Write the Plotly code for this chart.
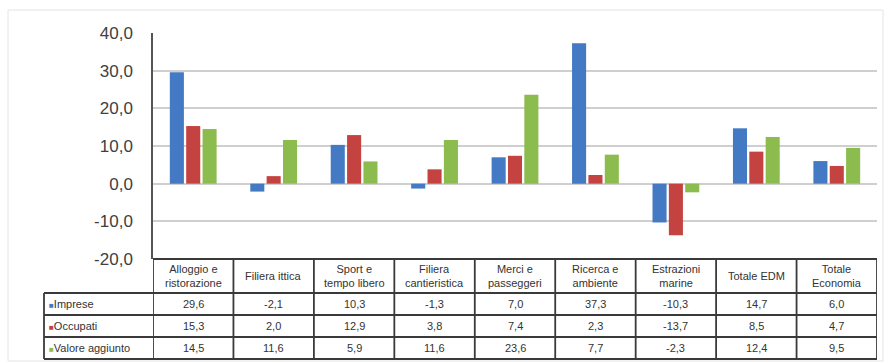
import plotly.graph_objects as go

# Sectors of the blue economy and yearly % changes per indicator
categories = ["Alloggio e<br>ristorazione", "Filiera ittica", "Sport e<br>tempo libero",
              "Filiera<br>cantieristica", "Merci e<br>passeggeri", "Ricerca e<br>ambiente",
              "Estrazioni<br>marine", "Totale EDM", "Totale<br>Economia"]
series_names = ["Imprese", "Occupati", "Valore aggiunto"]
imprese = [29.6, -2.1, 10.3, -1.3, 7.0, 37.3, -10.3, 14.7, 6.0]
occupati = [15.3, 2.0, 12.9, 3.8, 7.4, 2.3, -13.7, 8.5, 4.7]
valore_aggiunto = [14.5, 11.6, 5.9, 11.6, 23.6, 7.7, -2.3, 12.4, 9.5]
colors = ["#4479C4", "#C4423F", "#8CBB4E"]
y_ticks = [-20, -10, 0, 10, 20, 30, 40]
y_tick_labels = ["-20,0", "-10,0", "0,0", "10,0", "20,0", "30,0", "40,0"]

W, H = 890, 363
L, R, T, B = 153, 13, 33, 104
plot_w = W - L - R
plot_h = H - T - B
FONT = "Liberation Sans, Arial, sans-serif"
LINE = "#3a3a3a"
TXT = "#333333"


def px_x(p):
    return (p - L) / plot_w


def px_y(p):
    return (H - B - p) / plot_h


def fmt(v):
    return f"{v:.1f}".replace(".", ",")


n = len(categories)
xs = list(range(n))
values = [imprese, occupati, valore_aggiunto]

fig = go.Figure()
for name, vals, col in zip(series_names, values, colors):
    fig.add_trace(go.Bar(x=xs, y=vals, name=name, marker=dict(color=col, line=dict(width=0)),
                         showlegend=False))

shapes = []
annotations = []

# outer chart frame
shapes.append(dict(type="rect", xref="paper", yref="paper", x0=px_x(8), x1=px_x(883),
                   y0=px_y(10), y1=px_y(361), line=dict(color="#e4e4e4", width=1), layer="below"))

# data table grid below the plot
row_edges = [259, 293, 315, 337, 359]
tbl_left = 44
for i, yp in enumerate(row_edges):
    x0 = px_x(tbl_left) if i >= 1 else 0
    shapes.append(dict(type="line", xref="paper", yref="paper", x0=x0, x1=1,
                       y0=px_y(yp), y1=px_y(yp), line=dict(color=LINE, width=1.8)))
for k in range(n + 1):
    shapes.append(dict(type="line", xref="x", yref="paper", x0=k - 0.5, x1=k - 0.5,
                       y0=px_y(259), y1=px_y(359), line=dict(color=LINE, width=1.8)))
shapes.append(dict(type="line", xref="paper", yref="paper", x0=px_x(tbl_left), x1=px_x(tbl_left),
                   y0=px_y(293), y1=px_y(359), line=dict(color=LINE, width=1.8)))

# header: sector names
for i, c in enumerate(categories):
    annotations.append(dict(x=i, y=px_y(276), xref="x", yref="paper", text=c, showarrow=False,
                            xanchor="center", yanchor="middle",
                            font=dict(family=FONT, size=11, color=TXT), align="center"))

# rows: legend key + values
row_centers = [304, 326, 348]
for name, vals, col, yc in zip(series_names, values, colors, row_centers):
    annotations.append(dict(x=px_x(47), y=px_y(yc), xref="paper", yref="paper",
                            xanchor="left", yanchor="middle",
                            text=f"<span style='color:{col};font-size:8px'>■</span>{name}",
                            showarrow=False, font=dict(family=FONT, size=11, color=TXT)))
    for i, v in enumerate(vals):
        annotations.append(dict(x=i, y=px_y(yc), xref="x", yref="paper",
                                xanchor="center", yanchor="middle",
                                text=fmt(v), showarrow=False,
                                font=dict(family=FONT, size=11, color=TXT)))

fig.update_layout(
    width=W, height=H,
    margin=dict(l=L, r=R, t=T, b=B),
    paper_bgcolor="white", plot_bgcolor="white",
    barmode="group", bargap=0.39, bargroupgap=0.14,
    shapes=shapes, annotations=annotations,
    xaxis=dict(range=[-0.5, n - 0.5], showticklabels=False, showgrid=False, zeroline=False,
               showline=False, fixedrange=True),
    yaxis=dict(range=[-20, 40], tickvals=y_ticks, ticktext=y_tick_labels, showgrid=True,
               gridcolor="#cfcfcf", gridwidth=1.5, zeroline=True, zerolinecolor="#cfcfcf",
               zerolinewidth=1.5, showline=True, linecolor="#555555", linewidth=1.5,
               ticks="", ticklabelstandoff=15,
               tickfont=dict(family=FONT, size=17, color="#404040")),
    font=dict(family=FONT),
)

fig.write_html("out.html")
